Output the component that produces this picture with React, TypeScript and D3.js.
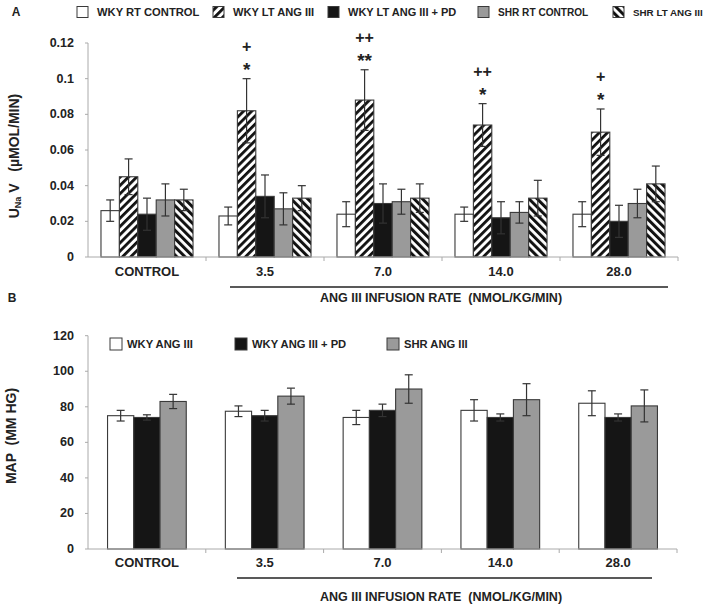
import React from "react";
import * as d3 from "d3";

const categories = ["CONTROL", "3.5", "7.0", "14.0", "28.0"];

// Panel A
const seriesA = ["WKY RT CONTROL", "WKY LT ANG III", "WKY LT ANG III + PD", "SHR RT CONTROL", "SHR LT ANG III"];
const wkyRtControl = [0.026, 0.023, 0.024, 0.024, 0.024];
const wkyRtControlErr = [0.006, 0.005, 0.007, 0.004, 0.007];
const wkyLtAng = [0.045, 0.082, 0.088, 0.074, 0.070];
const wkyLtAngErr = [0.010, 0.018, 0.017, 0.012, 0.013];
const wkyLtAngPd = [0.024, 0.034, 0.030, 0.022, 0.020];
const wkyLtAngPdErr = [0.009, 0.012, 0.011, 0.009, 0.009];
const shrRtControl = [0.032, 0.027, 0.031, 0.025, 0.030];
const shrRtControlErr = [0.009, 0.009, 0.007, 0.006, 0.008];
const shrLtAng = [0.032, 0.033, 0.033, 0.033, 0.041];
const shrLtAngErr = [0.006, 0.007, 0.008, 0.010, 0.010];
const plusMarks = ["", "+", "++", "++", "+"];
const starMarks = ["", "*", "**", "*", "*"];
const ticksA = [0, 0.02, 0.04, 0.06, 0.08, 0.1, 0.12];

// Panel B
const seriesB = ["WKY ANG III", "WKY ANG III + PD", "SHR ANG III"];
const wkyAng = [75, 77.5, 74, 78, 82];
const wkyAngErr = [3, 3, 4, 6, 7];
const wkyAngPd = [74, 75, 78, 74, 74];
const wkyAngPdErr = [1.5, 3, 3.5, 2, 2];
const shrAng = [83, 86, 90, 84, 80.5];
const shrAngErr = [4, 4.5, 8, 9, 9];
const ticksB = [0, 20, 40, 60, 80, 100, 120];

const rateLabel = "ANG III INFUSION RATE  (NMOL/KG/MIN)";

const FONT = "'Liberation Sans', Arial, sans-serif";
const TXT = "#222";
const AXIS = "#aaaaaa";
const OUT = "#3a3a3a";

const fillsA = ["#ffffff", "url(#hatchF)", "#151515", "#9a9a9a", "url(#hatchB)"];
const fillsB = ["#ffffff", "#151515", "#9a9a9a"];

const valsA = [wkyRtControl, wkyLtAng, wkyLtAngPd, shrRtControl, shrLtAng];
const errsA = [wkyRtControlErr, wkyLtAngErr, wkyLtAngPdErr, shrRtControlErr, shrLtAngErr];
const valsB = [wkyAng, wkyAngPd, shrAng];
const errsB = [wkyAngErr, wkyAngPdErr, shrAngErr];

function ErrBar({ x, yTop, yBot }: { x: number; yTop: number; yBot: number }) {
  const c = 4;
  return (
    <g stroke="#333" strokeWidth={1.2}>
      <line x1={x} x2={x} y1={yTop} y2={yBot} />
      <line x1={x - c} x2={x + c} y1={yTop} y2={yTop} />
      <line x1={x - c} x2={x + c} y1={yBot} y2={yBot} />
    </g>
  );
}

export default function App() {
  const xA = d3.scaleBand().domain(categories).range([88, 678]).padding(0);
  const sA = d3.scaleBand().domain(seriesA).range([0, xA.bandwidth()]).paddingInner(0).paddingOuter(0.705);
  const yA = d3.scaleLinear().domain([0, 0.12]).range([257, 43]);

  const xB = d3.scaleBand().domain(categories).range([88, 677]).padding(0);
  const sB = d3.scaleBand().domain(seriesB).range([0, xB.bandwidth()]).paddingInner(0).paddingOuter(0.745);
  const yB = d3.scaleLinear().domain([0, 120]).range([549, 335.7]);

  const fmtA = (v: number) => (v === 0 ? "0" : d3.format("~g")(v));

  const legendAX = [77, 213, 328, 478, 613];
  const legendAFs = [11.2, 11.1, 11, 10.1, 9.8];
  const legendBX = [110, 235, 387];
  const legY = 12;

  return (
    <svg
      width={709}
      height={606}
      style={{ position: "absolute", left: 0, top: 0, background: "#fff" }}
      fontFamily={FONT}
      fontWeight="bold"
    >
      <defs>
        <pattern id="hatchF" patternUnits="userSpaceOnUse" width={5.8} height={5.8} patternTransform="rotate(45)">
          <rect width={5.8} height={5.8} fill="#fff" />
          <rect width={2.8} height={5.8} fill="#111" />
        </pattern>
        <pattern id="hatchB" patternUnits="userSpaceOnUse" width={5.8} height={5.8} patternTransform="rotate(-45)">
          <rect width={5.8} height={5.8} fill="#fff" />
          <rect width={3} height={5.8} fill="#111" />
        </pattern>
      </defs>

      {/* ===== Panel A ===== */}
      <text x={16} y={legY} fontSize={12} fill={TXT} textAnchor="middle" dominantBaseline="central">A</text>
      {seriesA.map((s, i) => (
        <g key={s}>
          <rect x={legendAX[i]} y={legY - 5.5} width={11} height={11} fill={fillsA[i]} stroke={OUT} strokeWidth={1} />
          <text x={legendAX[i] + 20} y={legY} fontSize={legendAFs[i]} fill={TXT} dominantBaseline="central">{s}</text>
        </g>
      ))}

      <line x1={88} x2={88} y1={yA(0)} y2={yA(0.12)} stroke={AXIS} strokeWidth={1} />
      {ticksA.map((t) => (
        <g key={t}>
          <line x1={85} x2={88} y1={yA(t)} y2={yA(t)} stroke={AXIS} />
          <text x={74} y={yA(t)} fontSize={12.5} fill={TXT} textAnchor="end" dominantBaseline="central">{fmtA(t)}</text>
        </g>
      ))}
      <text transform={`translate(14,156) rotate(-90)`} fontSize={14} fill={TXT} textAnchor="middle" dominantBaseline="central">
        U<tspan fontSize={9} dy={4}>Na</tspan><tspan dy={-4} xmlSpace="preserve">{" V   (\u00b5MOL/MIN)"}</tspan>
      </text>

      {categories.map((c, ci) => (
        <g key={c}>
          {seriesA.map((s, si) => {
            const x = (xA(c) as number) + (sA(s) as number);
            const v = valsA[si][ci];
            return (
              <rect key={s} x={x} y={yA(v)} width={sA.bandwidth()} height={yA(0) - yA(v)} fill={fillsA[si]} stroke={OUT} strokeWidth={1.1} />
            );
          })}
          {seriesA.map((s, si) => {
            const x = (xA(c) as number) + (sA(s) as number) + sA.bandwidth() / 2;
            const v = valsA[si][ci];
            const e = errsA[si][ci];
            return <ErrBar key={s} x={x} yTop={yA(v + e)} yBot={yA(v - e)} />;
          })}
          {(() => {
            const x = (xA(c) as number) + (sA(seriesA[1]) as number) + sA.bandwidth() / 2;
            const top = yA(valsA[1][ci] + errsA[1][ci]);
            return (
              <g fill={TXT} textAnchor="middle">
                <text x={x} y={top - 14 + 11} fontSize={19}>{starMarks[ci]}</text>
                <text x={x} y={top - 32 + 5.5} fontSize={16}>{plusMarks[ci]}</text>
              </g>
            );
          })()}
        </g>
      ))}
      <line x1={88} x2={678} y1={yA(0)} y2={yA(0)} stroke={AXIS} strokeWidth={1} />
      {categories.map((c) => (
        <line key={c} x1={(xA(c) as number) + xA.bandwidth()} x2={(xA(c) as number) + xA.bandwidth()} y1={yA(0)} y2={yA(0) + 4} stroke={AXIS} />
      ))}
      {categories.map((c) => (
        <text key={c} x={(xA(c) as number) + xA.bandwidth() / 2} y={271} fontSize={13} fill={TXT} textAnchor="middle" dominantBaseline="central">{c}</text>
      ))}
      <line x1={230} x2={668} y1={287} y2={287} stroke="#222" strokeWidth={1.5} />
      <text x={441} y={298} fontSize={12.5} fill={TXT} textAnchor="middle" dominantBaseline="central" xmlSpace="preserve">{rateLabel}</text>

      {/* ===== Panel B ===== */}
      <text x={12} y={298} fontSize={12} fill={TXT} textAnchor="middle" dominantBaseline="central">B</text>
      <line x1={88} x2={88} y1={yB(0)} y2={yB(120)} stroke={AXIS} strokeWidth={1} />
      {ticksB.map((t) => (
        <g key={t}>
          <line x1={85} x2={88} y1={yB(t)} y2={yB(t)} stroke={AXIS} />
          <text x={74} y={yB(t)} fontSize={12.6} fill={TXT} textAnchor="end" dominantBaseline="central">{t}</text>
        </g>
      ))}
      <text transform={`translate(11,436) rotate(-90)`} fontSize={14} fill={TXT} textAnchor="middle" dominantBaseline="central" xmlSpace="preserve">
        {"MAP  (MM HG)"}
      </text>
      {seriesB.map((s, i) => (
        <g key={s}>
          <rect x={legendBX[i]} y={338} width={12} height={12} fill={fillsB[i]} stroke={OUT} strokeWidth={1} />
          <text x={legendBX[i] + 17} y={344} fontSize={11.2} fill={TXT} dominantBaseline="central">{s}</text>
        </g>
      ))}
      {categories.map((c, ci) => (
        <g key={c}>
          {seriesB.map((s, si) => {
            const x = (xB(c) as number) + (sB(s) as number);
            const v = valsB[si][ci];
            return <rect key={s} x={x} y={yB(v)} width={sB.bandwidth()} height={yB(0) - yB(v)} fill={fillsB[si]} stroke={OUT} strokeWidth={1.1} />;
          })}
          {seriesB.map((s, si) => {
            const x = (xB(c) as number) + (sB(s) as number) + sB.bandwidth() / 2;
            const v = valsB[si][ci];
            const e = errsB[si][ci];
            return <ErrBar key={s} x={x} yTop={yB(v + e)} yBot={yB(v - e)} />;
          })}
        </g>
      ))}
      <line x1={88} x2={677} y1={yB(0)} y2={yB(0)} stroke={AXIS} strokeWidth={1} />
      {categories.map((c) => (
        <line key={c} x1={(xB(c) as number) + xB.bandwidth()} x2={(xB(c) as number) + xB.bandwidth()} y1={yB(0)} y2={yB(0) + 4} stroke={AXIS} />
      ))}
      {categories.map((c) => (
        <text key={c} x={(xB(c) as number) + xB.bandwidth() / 2} y={562} fontSize={13} fill={TXT} textAnchor="middle" dominantBaseline="central">{c}</text>
      ))}
      <line x1={237} x2={652} y1={578} y2={578} stroke="#222" strokeWidth={1.5} />
      <text x={441} y={597} fontSize={12.5} fill={TXT} textAnchor="middle" dominantBaseline="central" xmlSpace="preserve">{rateLabel}</text>
    </svg>
  );
}
